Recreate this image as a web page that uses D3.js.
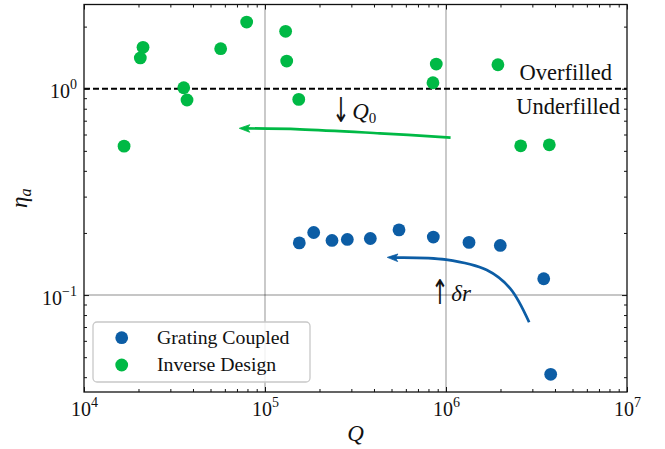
<!DOCTYPE html>
<html>
<head>
<meta charset="utf-8">
<script src="https://cdn.jsdelivr.net/npm/d3@7"></script>
<style>
  body { margin: 0; background: #fff; }
  svg { display: block; }
  text { font-family: "Liberation Serif", "DejaVu Serif", serif; fill: #111; }
</style>
</head>
<body>
<div id="chart"></div>
<script>
// grating coupled devices (blue)
const gratingQ   = [1.547e5, 1.858e5, 2.345e5, 2.85e5, 3.819e5, 5.5e5, 8.51e5, 1.34e6, 1.995e6, 3.467e6, 3.788e6];
const gratingEta = [0.179, 0.201, 0.184, 0.186, 0.188, 0.207, 0.191, 0.180, 0.174, 0.120, 0.0413];

// inverse design devices (green)
const inverseQ   = [1.665e4, 2.047e4, 2.119e4, 3.556e4, 3.708e4, 5.69e4, 7.92e4, 1.30e5, 1.318e5, 1.536e5, 8.47e5, 8.835e5, 1.936e6, 2.586e6, 3.722e6];
const inverseEta = [0.527, 1.41, 1.588, 1.011, 0.882, 1.563, 2.105, 1.898, 1.362, 0.888, 1.069, 1.317, 1.307, 0.529, 0.535];

// annotation arrows, tail -> head, in data space
const q0ArrowQ   = [1.06e6, 4.31e5, 1.56e5, 7.21e4];
const q0ArrowEta = [0.580, 0.608, 0.636, 0.643];
const drArrowQ   = [2.88e6, 2.26e6, 1.68e6, 1.0e6, 4.74e5];
const drArrowEta = [0.0738, 0.1078, 0.1322, 0.1486, 0.1523];

const xMajor = [1e4, 1e5, 1e6, 1e7];
const yMajor = [0.1, 1];
const xLabels = ["4", "5", "6", "7"];
const yLabels = ["\u22121", "0"];

const blue = "#0C5DA5", green = "#00B945";

const width = 665, height = 449;
const mLeft = 84, mRight = 627, mTop = 4.5, mBottom = 392;

const x = d3.scaleLog().domain([1e4, 1e7]).range([mLeft, mRight]);
const y = d3.scaleLog().domain([0.0339, 2.56]).range([mBottom, mTop]);

const svg = d3.select("#chart").append("svg")
  .attr("width", width)
  .attr("height", height);

// minor tick values
const xMinor = [];
[1e4, 1e5, 1e6].forEach(d => { for (let k = 2; k <= 9; k++) xMinor.push(d * k); });
const yMinor = [0.04, 0.05, 0.06, 0.07, 0.08, 0.09, 0.2, 0.3, 0.4, 0.5, 0.6, 0.7, 0.8, 0.9, 2];

// grid at major ticks
svg.append("g").selectAll("line").data([1e5, 1e6]).join("line")
  .attr("x1", d => x(d)).attr("x2", d => x(d))
  .attr("y1", mTop).attr("y2", mBottom)
  .attr("stroke", "#000").attr("stroke-opacity", 0.3).attr("stroke-width", 1.4);
svg.append("g").selectAll("line").data([0.1]).join("line")
  .attr("x1", mLeft).attr("x2", mRight)
  .attr("y1", d => y(d)).attr("y2", d => y(d))
  .attr("stroke", "#000").attr("stroke-opacity", 0.3).attr("stroke-width", 1.4);

// overfilled / underfilled boundary
svg.append("line")
  .attr("x1", mLeft).attr("x2", mRight)
  .attr("y1", y(1)).attr("y2", y(1))
  .attr("stroke", "#000").attr("stroke-width", 1.8)
  .attr("stroke-dasharray", "6,3");

// axes, ticks pointing inward
function addAxis(axis, transform) {
  const g = svg.append("g").attr("transform", transform).call(axis);
  g.select(".domain").remove();
  g.selectAll(".tick line").attr("stroke", "#111").attr("stroke-width", 1);
  return g;
}
addAxis(d3.axisBottom(x).tickValues(xMinor).tickSize(-3).tickFormat(""), `translate(0,${mBottom})`);
addAxis(d3.axisTop(x).tickValues(xMinor).tickSize(-3).tickFormat(""), `translate(0,${mTop})`);
addAxis(d3.axisLeft(y).tickValues(yMinor).tickSize(-3).tickFormat(""), `translate(${mLeft},0)`);
addAxis(d3.axisRight(y).tickValues(yMinor).tickSize(-3).tickFormat(""), `translate(${mRight},0)`);
const xAx = addAxis(d3.axisBottom(x).tickValues(xMajor).tickSize(-5).tickFormat(""), `translate(0,${mBottom})`);
addAxis(d3.axisTop(x).tickValues(xMajor).tickSize(-5).tickFormat(""), `translate(0,${mTop})`);
const yAx = addAxis(d3.axisLeft(y).tickValues(yMajor).tickSize(-5).tickFormat(""), `translate(${mLeft},0)`);
addAxis(d3.axisRight(y).tickValues(yMajor).tickSize(-5).tickFormat(""), `translate(${mRight},0)`);

// power-of-ten tick labels
xAx.selectAll(".tick text").remove();
xAx.selectAll(".tick").append("text")
  .attr("y", 23.7).attr("text-anchor", "middle")
  .style("font-size", "20px")
  .each(function(d, i) {
    const t = d3.select(this);
    t.append("tspan").text("10");
    t.append("tspan").attr("dy", -9).style("font-size", "14px").text(xLabels[i]);
  });
yAx.selectAll(".tick text").remove();
yAx.selectAll(".tick").append("text")
  .attr("x", -7).attr("y", 9).attr("text-anchor", "end")
  .style("font-size", "20px")
  .each(function(d, i) {
    const t = d3.select(this);
    t.append("tspan").text("10");
    t.append("tspan").attr("dy", -9).style("font-size", "14px").text(yLabels[i]);
  });

// frame
svg.append("rect")
  .attr("x", mLeft).attr("y", mTop)
  .attr("width", mRight - mLeft).attr("height", mBottom - mTop)
  .attr("fill", "none").attr("stroke", "#111").attr("stroke-width", 1.3);

// arrows
function drawArrow(qs, etas, color) {
  const pts = qs.map((q, i) => [x(q), y(etas[i])]);
  const n = pts.length;
  const tip = pts[n - 1], prev = pts[n - 2];
  const ang = Math.atan2(tip[1] - prev[1], tip[0] - prev[0]);
  const len = 10.5, half = 3.8;
  const ux = Math.cos(ang), uy = Math.sin(ang);
  const base = [tip[0] - ux * len, tip[1] - uy * len];
  const shaft = pts.slice(0, n - 1).concat([[tip[0] - ux * 6, tip[1] - uy * 6]]);
  svg.append("path")
    .attr("d", d3.line().curve(d3.curveCatmullRom)(shaft))
    .attr("fill", "none").attr("stroke", color).attr("stroke-width", 2.7);
  svg.append("path")
    .attr("d", d3.line()([
      tip,
      [base[0] - uy * half, base[1] + ux * half],
      [tip[0] - ux * 8, tip[1] - uy * 8],
      [base[0] + uy * half, base[1] - ux * half]
    ]) + "Z")
    .attr("fill", color).attr("stroke", color).attr("stroke-width", 0.8);
}
drawArrow(q0ArrowQ, q0ArrowEta, green);
drawArrow(drArrowQ, drArrowEta, blue);

// scatter points
svg.append("g").selectAll("circle").data(gratingQ).join("circle")
  .attr("cx", d => x(d)).attr("cy", (d, i) => y(gratingEta[i]))
  .attr("r", 6.4).attr("fill", blue);
svg.append("g").selectAll("circle").data(inverseQ).join("circle")
  .attr("cx", d => x(d)).attr("cy", (d, i) => y(inverseEta[i]))
  .attr("r", 6.4).attr("fill", green);

// annotation text
svg.append("text")
  .attr("x", x(8.26e6)).attr("y", y(1.10)).attr("text-anchor", "end")
  .style("font-size", "22.5px").text("Overfilled");
svg.append("text")
  .attr("x", x(9.15e6)).attr("y", y(0.758)).attr("text-anchor", "end")
  .style("font-size", "22.5px").text("Underfilled");

// "↓ Q0" and "↑ δr" labels; the arrow glyph is stretched to the tall math-arrow look
function arrowLabel(q, eta, glyph) {
  const g = svg.append("g").attr("transform", `translate(${x(q)},${y(eta)})`);
  g.append("text")
    .attr("transform", "translate(-1,3) scale(1.15,1.9)")
    .style("font-family", "DejaVu Sans").style("font-size", "18px")
    .style("opacity", 0.99)
    .style("fill", "#111").text(glyph);
  return g.append("text").attr("x", 19).style("font-size", "23px");
}
const q0Label = arrowLabel(2.38e5, 0.713, "\u2193");
q0Label.append("tspan").style("font-style", "italic").text("Q");
q0Label.append("tspan").attr("dy", 4).style("font-size", "15px").text("0");

const drLabel = arrowLabel(8.4e5, 0.0935, "\u2191");
drLabel.append("tspan").style("font-style", "italic").text("\u03b4r");

// axis titles
svg.append("text")
  .attr("x", (mLeft + mRight) / 2).attr("y", 441)
  .attr("text-anchor", "middle")
  .style("font-size", "23px").style("font-style", "italic").text("Q");

const yTitle = svg.append("text")
  .attr("transform", `translate(27,${(mTop + mBottom) / 2}) rotate(-90)`)
  .attr("text-anchor", "middle")
  .style("font-size", "23px").style("font-style", "italic");
yTitle.append("tspan").text("\u03b7");
yTitle.append("tspan").attr("dy", 4).style("font-size", "16px").text("a");

// legend
const legend = svg.append("g").attr("transform", "translate(93,322)");
legend.append("rect")
  .attr("width", 217).attr("height", 60).attr("rx", 4)
  .attr("fill", "#fff").attr("fill-opacity", 0.85)
  .attr("stroke", "#c8c8c8").attr("stroke-width", 1.3);
const legendItems = ["Grating Coupled", "Inverse Design"];
const legendColors = [blue, green];
legend.selectAll("circle").data(legendItems).join("circle")
  .attr("cx", 28.7).attr("cy", (d, i) => 15.7 + i * 27.3)
  .attr("r", 6.4).attr("fill", (d, i) => legendColors[i]);
legend.selectAll("text").data(legendItems).join("text")
  .attr("x", 64).attr("y", (d, i) => 21.5 + i * 27.3)
  .style("font-size", "19.8px").text(d => d);
</script>
</body>
</html>
